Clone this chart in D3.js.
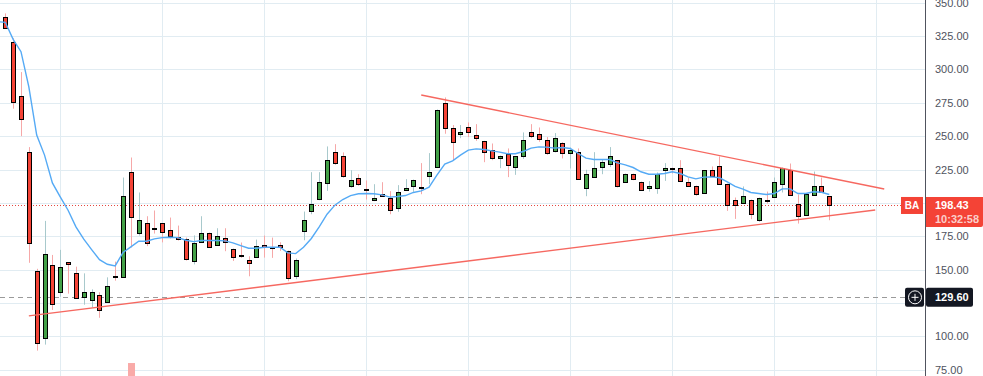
<!DOCTYPE html>
<html>
<head>
<meta charset="utf-8">
<script src="https://cdn.jsdelivr.net/npm/d3@7"></script>
<style>
  html, body { margin: 0; padding: 0; background: #fff; overflow: hidden; }
  svg { display: block; }
  text { font-family: "Liberation Sans", Arial, sans-serif; }
  .tick-label text { font-family: "Liberation Sans", Arial, sans-serif; font-size: 11px; fill: #50535e; }
</style>
</head>
<body>
<div id="chart"></div>
<script>
// first bar is cut off by the left edge of the picture
const firstIndex = -1;

const opens = [
  338, 339, 320.3, 279.8, 237.8, 149, 98.5, 153.2, 133, 155.5,
  147.2, 129.2, 127, 130.7, 125.5, 145.5, 144.8, 222.8, 177, 184.6,
  180.9, 184.6, 180, 174.8, 172.6, 156.1, 170.8, 177.8, 168.5, 174,
  165.8, 160.9, 157.5, 159.5, 168.8, 167.1, 168.8, 164.3, 145.3, 178.3,
  194, 203, 215, 238.5, 234.8, 212, 218.3, 210.1, 202.3, 207,
  203.3, 195.8, 209, 212.8, 211.6, 219.5, 226.3, 274.5, 255.8, 251,
  256.5, 250.5, 246.5, 240, 233.8, 237, 226.3, 234.8, 252.8, 251.3,
  246.8, 238.3, 244.5, 236.8, 237.8, 210.5, 219.5, 227, 228.8, 231.8,
  215.8, 222, 216, 211.3, 210.5, 224, 226.5, 226.5, 216, 213,
  207, 225, 227.3, 214.5, 201.8, 199.3, 202.5, 187.3, 201.8, 204,
  213.8, 224.3, 199.5, 190.5, 205.5, 213, 204.8,
];
const highs = [
  342, 342, 323.3, 298, 241.8, 150.6, 186.5, 161, 164.8, 155.5,
  152.2, 147.2, 135.2, 133, 144.2, 156, 219, 234, 207.8, 190,
  194.3, 184.6, 189, 183, 174, 175.6, 190, 177.8, 181, 181,
  165.8, 170.3, 160, 172.5, 175.5, 174, 170.5, 164.3, 158.3, 193.5,
  223, 223, 242.3, 244, 237.8, 224.5, 221.5, 216.8, 214, 215.5,
  208.8, 213.3, 217.8, 217.5, 229.8, 237.3, 270, 279, 258.3, 258.3,
  260.3, 259, 246.5, 244.5, 235.5, 240.8, 234.8, 252.8, 259, 256.5,
  249.3, 252.3, 245.5, 241.5, 240.8, 224.8, 238, 232.5, 241.8, 231.8,
  222, 222, 216, 216.3, 222.8, 229.8, 226.5, 232, 219, 213,
  224.3, 227.3, 234.8, 214.5, 204, 212.3, 202.5, 204, 208.5, 219,
  226.5, 229.5, 206.3, 206.3, 223.5, 219, 204.8,
];
const lows = [
  337, 330.5, 270.6, 250, 155.1, 89.3, 93.8, 119.8, 129.7, 132,
  128.5, 123.7, 121.7, 113.9, 125.5, 141.7, 144.8, 166.6, 175.5, 167.6,
  177, 170.4, 173.3, 171.8, 156.8, 153.9, 170.8, 166.3, 167.8, 163.8,
  156.5, 158.8, 145, 159.5, 159, 158.8, 164, 141.3, 142.8, 172,
  191.5, 202, 209, 228.5, 218.8, 211.3, 212.8, 202.5, 201.3, 204.5,
  191.5, 193.3, 209, 208.3, 206.5, 214, 226.3, 251.8, 232, 248.5,
  249.3, 246.5, 230.5, 232, 226, 219.3, 221, 233, 248.5, 245.8,
  236, 237.8, 233.3, 225.8, 217.5, 205, 219.5, 221.5, 226.8, 211.5,
  215.8, 217, 209.8, 208.5, 206.8, 216.5, 222, 216.8, 213, 205.3,
  207, 220.5, 213.8, 194, 188, 199.3, 187.8, 185.8, 199.5, 204,
  207.8, 205.5, 184.5, 190.5, 205.5, 208.5, 187,
];
const closes = [
  341.5, 330.8, 275.3, 262.6, 169.6, 94.8, 161.5, 124, 151.7, 154,
  128.5, 133, 133, 119.5, 137.5, 145.3, 205.5, 189, 186.8, 169.6,
  180.7, 177.9, 175.5, 173.3, 157.6, 169.6, 177.8, 167, 175.5, 170.8,
  159.5, 160.7, 155, 168, 167, 166.9, 167, 143.8, 157.5, 186.8,
  199.5, 216, 232.5, 230, 219.5, 216.8, 213.5, 209.9, 204, 205.3,
  194, 207.8, 210.8, 217.5, 211.4, 222.8, 269.3, 255.8, 245.3, 252.8,
  252.8, 248.3, 238.3, 233.8, 235.5, 228.5, 234.8, 246.8, 249.8, 247.5,
  236.8, 248.3, 236.8, 239.3, 217.5, 221.3, 226.5, 231, 234.8, 212,
  222, 218, 209.8, 213, 221.3, 225.8, 225.5, 216.8, 213, 207,
  224.3, 220.5, 213.8, 198.8, 198, 204.8, 192, 204, 200.8, 215.3,
  225.8, 205.5, 190.5, 206.3, 212.3, 208.5, 198.43,
];
const maValues = [
  335.8, 335.3, 322.5, 313.3, 287, 250.8, 235.8, 215, 204.5, 194.5,
  182, 172.8, 165, 157.5, 154, 152.8, 162.8, 167, 171.3, 171.3,
  173, 174, 174.3, 174, 172, 171, 171.8, 171.8, 171.8, 171.5,
  170, 168, 166, 166, 166.8, 166.8, 166.8, 162.5, 162, 166.8,
  173.3, 182, 191.5, 198.3, 202.5, 205.5, 206.8, 207, 206.8, 206,
  204.3, 204.8, 205.5, 207.8, 209, 211.8, 220.8, 229, 231.5, 235.8,
  239.5, 240.5, 240, 239, 238, 236.8, 236.8, 238.5, 241, 242,
  241.8, 241, 241.5, 240.8, 237, 233.5, 232.5, 232.5, 232.5, 230,
  228.5, 226.5, 223.3, 221.5, 221.5, 222, 223.3, 222, 219.5, 218,
  219.3, 219.5, 218.8, 215.8, 212.3, 210.3, 207.8, 207, 206.3, 207,
  210.5, 210.5, 207, 207, 208.3, 208, 206.3,
];

const gridPrices = [350, 325, 300, 275, 250, 225, 200, 175, 150, 125, 100, 75];
const tickPrices = [350, 325, 300, 275, 250, 225, 175, 150, 100, 75];
const gridIndexes = [7, 20, 33, 46, 59, 72, 85, 98, 111];

// [index, price] pairs of the two hand drawn trend lines
const upperTrend = [[53, 280.8], [112, 210.4]];
const lowerTrend = [[3, 115.3], [110.85, 194.7]];

const lastPrice = 198.43;
const countdown = "10:32:58";
const symbol = "BA";
const alertPrice = 129.6;

// only one volume bar pokes up into the view
const volumeIndex = [16];
const volumeTop = [80];

const width = 983, height = 376, axisX = 925;
const RED = "#f44336", GREEN = "#43a047";
const RED_WICK = "#f6a8a8", GREEN_WICK = "#a8c9cc";

const x = d3.scaleLinear().domain([0, 105]).range([5.3, 829.3]);
const y = d3.scaleLinear().domain([350, 75]).range([2.7, 369.7]);

const bars = closes.map((c, k) => ({
  i: k + firstIndex, o: opens[k], h: highs[k], l: lows[k], c,
  up: c >= opens[k],
}));

const svg = d3.select("#chart").append("svg").attr("width", width).attr("height", height);

// grid
const gridG = svg.append("g").attr("stroke", "#e1ecf2").attr("stroke-width", 1);
gridG.selectAll("line.h").data(gridPrices).join("line").attr("class", "h")
  .attr("x1", 0).attr("x2", axisX)
  .attr("y1", (d) => Math.round(y(d)) + 0.5).attr("y2", (d) => Math.round(y(d)) + 0.5);
gridG.selectAll("line.v").data(gridIndexes).join("line").attr("class", "v")
  .attr("x1", (d) => Math.round(x(d)) + 0.5).attr("x2", (d) => Math.round(x(d)) + 0.5)
  .attr("y1", 0).attr("y2", height);

// volume
svg.append("g").selectAll("rect").data(volumeIndex).join("rect")
  .attr("x", (d) => Math.round(x(d)) - 3)
  .attr("width", 7)
  .attr("y", (d, k) => y(volumeTop[k]))
  .attr("height", (d, k) => height - y(volumeTop[k]))
  .attr("fill", "#f9aaa8");

// price level lines
svg.append("line").attr("x1", 0).attr("x2", 905)
  .attr("y1", Math.round(y(alertPrice)) + 0.5).attr("y2", Math.round(y(alertPrice)) + 0.5)
  .attr("stroke", "#9a9a9a").attr("stroke-dasharray", "5,4");
svg.append("line").attr("x1", 0).attr("x2", 901)
  .attr("y1", Math.round(y(lastPrice)) + 0.5).attr("y2", Math.round(y(lastPrice)) + 0.5)
  .attr("stroke", "#e4473f").attr("stroke-dasharray", "1,2");

// candles
const barG = svg.append("g");
barG.selectAll("line").data(bars).join("line")
  .attr("x1", (d) => Math.round(x(d.i)) + 0.5).attr("x2", (d) => Math.round(x(d.i)) + 0.5)
  .attr("y1", (d) => y(d.h)).attr("y2", (d) => y(d.l))
  .attr("stroke", (d) => (d.up ? GREEN_WICK : RED_WICK));
barG.selectAll("rect").data(bars).join("rect")
  .attr("x", (d) => Math.round(x(d.i)) - 2 + 0.5)
  .attr("width", 4)
  .attr("y", (d) => Math.round(y(Math.max(d.o, d.c))) + 0.5)
  .attr("height", (d) => Math.max(1, Math.round(Math.abs(y(d.o) - y(d.c)))))
  .attr("fill", (d) => (d.up ? GREEN : RED))
  .attr("stroke", "#000").attr("stroke-width", 1);

// moving average
const maLine = d3.line().x((d, k) => x(k + firstIndex)).y((d) => y(d));
svg.append("path").datum(maValues).attr("d", maLine)
  .attr("fill", "none").attr("stroke", "#55aaf5").attr("stroke-width", 1.4);

// trend lines
const trendLine = d3.line().x((d) => x(d[0])).y((d) => y(d[1]));
svg.selectAll("path.trend").data([upperTrend, lowerTrend]).join("path")
  .attr("class", "trend").attr("d", trendLine)
  .attr("fill", "none").attr("stroke", "#f66860").attr("stroke-width", 1.4);

// price axis
svg.append("rect").attr("x", axisX).attr("y", 0).attr("width", width - axisX).attr("height", height).attr("fill", "#fff");
svg.append("line").attr("x1", axisX + 0.5).attr("x2", axisX + 0.5).attr("y1", 0).attr("y2", height)
  .attr("stroke", "#50535e");
const axis = d3.axisRight(y).tickValues(tickPrices).tickSize(0).tickPadding(10).tickFormat(d3.format(".2f"));
const axisG = svg.append("g").attr("class", "tick-label").attr("transform", `translate(${axisX},0)`).call(axis);
axisG.select(".domain").remove();

// last price tags
const priceY = y(lastPrice);
svg.append("rect").attr("x", 901).attr("y", priceY - 8).attr("width", 22).attr("height", 17).attr("fill", RED);
svg.append("text").attr("x", 912).attr("y", priceY + 4).attr("text-anchor", "middle")
  .attr("font-size", 10).attr("font-weight", 700).attr("fill", "#fff").text(symbol);
svg.append("path")
  .attr("d", `M${axisX + 1},${priceY - 8}H${width}V${priceY + 20}a2,2 0 0 1 -2,2H${axisX + 1}Z`)
  .attr("fill", RED);
svg.append("text").attr("x", 935).attr("y", priceY + 4)
  .attr("font-size", 11).attr("font-weight", 700).attr("fill", "#fff").text(lastPrice.toFixed(2));
svg.append("text").attr("x", 935).attr("y", priceY + 18)
  .attr("font-size", 11).attr("font-weight", 700).attr("fill", "#fbcfcb").text(countdown);

// alert level tags
const alertY = y(alertPrice);
svg.append("rect").attr("x", 905).attr("y", alertY - 9).attr("width", 19).attr("height", 19).attr("rx", 2).attr("fill", "#131722");
svg.append("circle").attr("cx", 915).attr("cy", alertY + 0.5).attr("r", 6.5)
  .attr("fill", "none").attr("stroke", "#fff");
svg.append("path").attr("d", `M911.5,${alertY + 0.5}h7M915,${alertY - 3}v7`).attr("stroke", "#fff");
svg.append("rect").attr("x", axisX + 1).attr("y", alertY - 9).attr("width", 47).attr("height", 19).attr("rx", 2).attr("fill", "#131722");
svg.append("text").attr("x", 935).attr("y", alertY + 4.5)
  .attr("font-size", 11).attr("font-weight", 700).attr("fill", "#fff").text(alertPrice.toFixed(2));
</script>
</body>
</html>
